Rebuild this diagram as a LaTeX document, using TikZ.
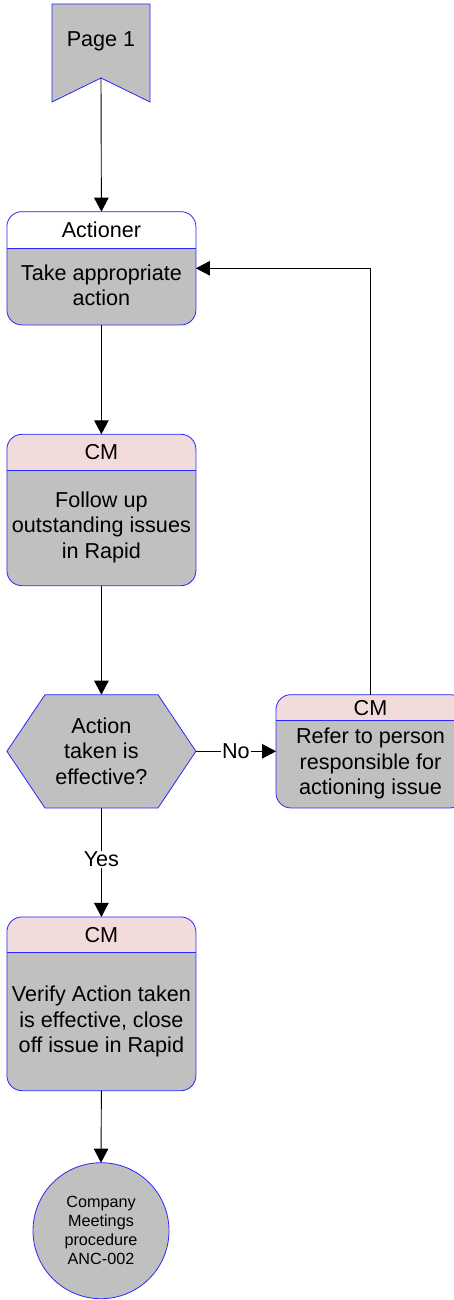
\documentclass[tikz,border=0pt]{standalone}
\usepackage{fontspec}
\setmainfont{Liberation Sans}
\usetikzlibrary{arrows.meta,calc}
\definecolor{bblue}{RGB}{40,40,255}
\definecolor{gfill}{RGB}{192,192,192}
\definecolor{hpink}{RGB}{242,220,219}
\begin{document}
\begin{tikzpicture}[x=1pt,y=-1pt,
  bdr/.style={draw=bblue, line width=0.8pt},
  boxshape/.style={fill=gfill, rounded corners=15pt, minimum width=189pt, inner sep=0pt, outer sep=0pt},
  txt/.style={align=center, inner sep=0pt, font=\fontsize{21.6}{25.5}\selectfont},
  smalltxt/.style={align=center, inner sep=0pt, font=\fontsize{16.2}{18.8}\selectfont},
  conn/.style={draw=black, line width=0.9pt, -{Triangle[length=14pt,width=14.5pt]}},
  lbl/.style={fill=white, inner sep=1pt, font=\fontsize{21.6}{25.5}\selectfont}
]
\clip (0,0) rectangle (454,1300);
\fill[white] (0,0) rectangle (454,1300);

% header helper
\newcommand{\hdrbox}[3]{% name, header height, header color
  \begin{scope}
    \clip[rounded corners=15pt] (#1.north west) rectangle (#1.south east);
    \fill[#3] (#1.north west) rectangle ($(#1.north east)+(0,#2)$);
  \end{scope}
  \draw[bdr] ($(#1.north west)+(0,#2)$) -- ($(#1.north east)+(0,#2)$);
  \draw[bdr, rounded corners=15pt] (#1.north west) rectangle (#1.south east);
}

% Page 1 off-page connector
\node[minimum width=98pt, minimum height=98pt, inner sep=0pt, outer sep=0pt] (p1) at (101,53) {};
\coordinate (notch) at (101,78);
\fill[gfill] (p1.north west) -- (p1.north east) -- (p1.south east) -- (notch) -- (p1.south west) -- cycle;
\draw[bdr] (p1.north west) -- (p1.north east) -- (p1.south east) -- (notch) -- (p1.south west) -- cycle;
\node[txt] (p1t) at (101,41) {Page 1};

% Box 1
\node[boxshape, minimum height=113.3pt] (a1) at (101.4,268.3) {};
\hdrbox{a1}{36.6}{white}
\node[txt] (a1h) at (101.4,230) {Actioner};
\node[txt] (a1t) at (101.4,285.5) {Take appropriate\\action};

% Box 2
\node[boxshape, minimum height=151.4pt] (a2) at (101.4,510) {};
\hdrbox{a2}{36.4}{hpink}
\node[txt] (a2h) at (101.4,452.5) {CM};
\node[txt] (a2t) at (101.4,527) {Follow up\\outstanding issues\\in Rapid};

% Decision hexagon
\node[minimum width=189pt, minimum height=113.3pt, inner sep=0pt, outer sep=0pt] (hx) at (101.4,751.3) {};
\coordinate (hxtl) at (45,694.7);
\coordinate (hxtr) at (158,694.7);
\coordinate (hxbl) at (45,808);
\coordinate (hxbr) at (158,808);
\filldraw[fill=gfill, bdr] (hx.west) -- (hxtl) -- (hxtr) -- (hx.east) -- (hxbr) -- (hxbl) -- cycle;
\node[txt] (hxt) at (101.4,751) {Action\\taken is\\effective?};

% Right box
\node[boxshape, minimum height=113.3pt] (rb) at (370.5,751.3) {};
\hdrbox{rb}{26}{hpink}
\node[txt] (rbh) at (370.5,707.7) {CM};
\node[txt] (rbt) at (370.5,763.5) {Refer to person\\responsible for\\actioning issue};

% Box 3
\node[boxshape, minimum height=173.7pt] (a3) at (101.4,1003.8) {};
\hdrbox{a3}{35.7}{hpink}
\node[txt] (a3h) at (101.4,935) {CM};
\node[txt] (a3t) at (101.4,1021.5) {Verify Action taken\\is effective, close\\off issue in Rapid};

% End circle
\node[circle, fill=gfill, bdr, minimum size=136pt, inner sep=0pt, outer sep=0pt] (end) at (101,1230.7) {};
\node[smalltxt] (endt) at (101,1230.5) {Company\\Meetings\\procedure\\ANC-002};

% Connectors
\draw[conn] (notch) -- (a1.north);
\draw[conn] (a1.south) -- (a2.north);
\draw[conn] (a2.south) -- (hx.north);
\draw[conn] (hx.east) -- node[lbl, pos=0.5] (nol) {No} (rb.west);
\draw[conn] (hx.south) -- node[lbl, pos=0.47] (yesl) {Yes} (a3.north);
\draw[conn] (rb.north) |- (a1.east);
\draw[conn] (a3.south) -- (end.north);
\end{tikzpicture}
\end{document}
